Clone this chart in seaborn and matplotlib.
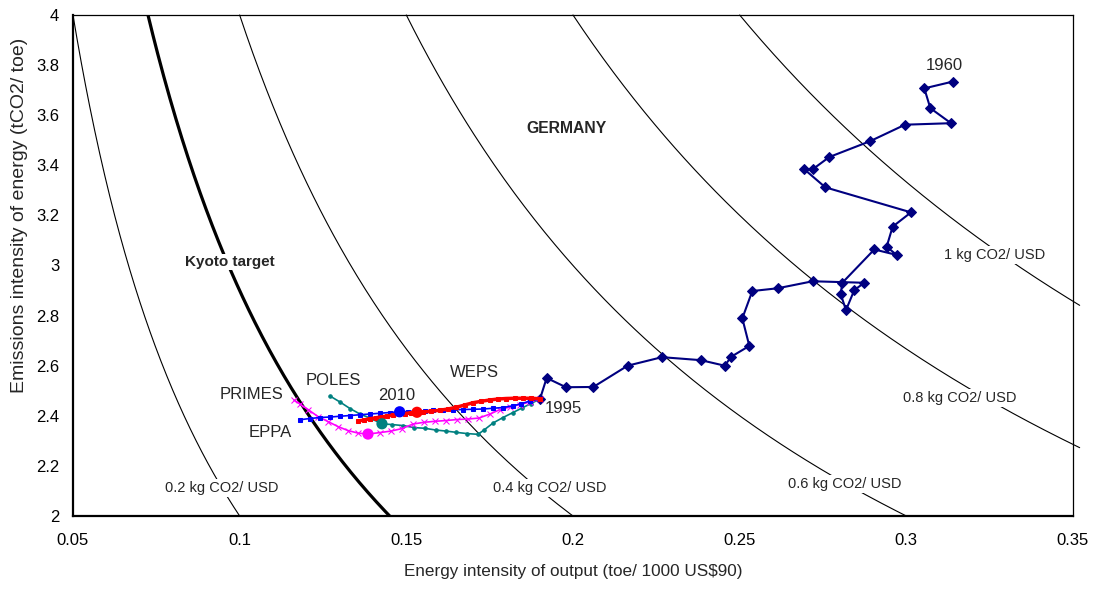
import numpy as np
import pandas as pd
import matplotlib
matplotlib.use("Agg")
import matplotlib.pyplot as plt
import seaborn as sns

# Germany 1960 -> 1995, (energy intensity of output, emissions intensity of energy)
germany_x = [0.3139, 0.3054, 0.3072, 0.3134, 0.2996, 0.2891, 0.2769, 0.2719, 0.2694,
             0.2757, 0.3014, 0.2959, 0.2941, 0.2971, 0.2904, 0.2808, 0.2803, 0.2819,
             0.2844, 0.2874, 0.2719, 0.2614, 0.2538, 0.2508, 0.2529, 0.2475, 0.2455,
             0.2384, 0.2267, 0.2164, 0.2061, 0.1979, 0.1921, 0.1901]
germany_y = [3.734, 3.707, 3.628, 3.568, 3.562, 3.496, 3.433, 3.384, 3.384,
             3.312, 3.212, 3.155, 3.075, 3.042, 3.064, 2.931, 2.886, 2.822,
             2.902, 2.931, 2.937, 2.909, 2.898, 2.789, 2.679, 2.636, 2.600,
             2.622, 2.634, 2.600, 2.515, 2.514, 2.551, 2.467]

# model projections from 1995
eppa_x = [0.190, 0.187, 0.1845, 0.182, 0.179, 0.176, 0.173, 0.170, 0.167, 0.164, 0.161,
          0.158, 0.1555, 0.153, 0.1505, 0.148, 0.145, 0.142, 0.139, 0.136, 0.133,
          0.130, 0.127, 0.124, 0.121, 0.118]
eppa_y = [2.467, 2.459, 2.448, 2.440, 2.433, 2.430, 2.427, 2.426, 2.425, 2.424, 2.423,
          2.422, 2.420, 2.418, 2.417, 2.416, 2.413, 2.410, 2.407, 2.404, 2.401,
          2.398, 2.395, 2.393, 2.389, 2.384]

weps_x = [0.190, 0.1875, 0.185, 0.1825, 0.180, 0.1775, 0.175, 0.1725, 0.170, 0.1675,
          0.165, 0.1625, 0.160, 0.1575, 0.155, 0.1532, 0.1514, 0.1496, 0.1479, 0.1461,
          0.1443, 0.1426, 0.1408, 0.1390, 0.1373, 0.1355]
weps_y = [2.468, 2.470, 2.470, 2.470, 2.469, 2.467, 2.463, 2.458, 2.452, 2.443,
          2.434, 2.427, 2.422, 2.418, 2.415, 2.414, 2.412, 2.409, 2.406, 2.403,
          2.399, 2.396, 2.392, 2.388, 2.383, 2.379]

primes_x = [0.1901, 0.1871, 0.1841, 0.1811, 0.1781, 0.1751, 0.1718, 0.1685, 0.1652,
            0.1619, 0.1586, 0.1553, 0.1520, 0.1487, 0.1454, 0.1421, 0.1385, 0.1355,
            0.1325, 0.1295, 0.1265, 0.1235, 0.1205, 0.1181, 0.1163]
primes_y = [2.467, 2.455, 2.445, 2.435, 2.425, 2.407, 2.391, 2.387, 2.385,
            2.381, 2.378, 2.374, 2.367, 2.349, 2.339, 2.333, 2.327, 2.331,
            2.341, 2.357, 2.377, 2.397, 2.425, 2.447, 2.463]

poles_x = [0.1901, 0.1874, 0.1847, 0.1820, 0.1790, 0.1760, 0.1733, 0.1715, 0.1682,
           0.1649, 0.1619, 0.1589, 0.1556, 0.1523, 0.1490, 0.1457, 0.1427, 0.1394,
           0.1361, 0.1331, 0.1301, 0.1271]
poles_y = [2.467, 2.449, 2.431, 2.413, 2.393, 2.371, 2.343, 2.326, 2.329,
           2.334, 2.339, 2.343, 2.350, 2.353, 2.361, 2.365, 2.368, 2.389,
           2.407, 2.429, 2.455, 2.479]

# 2010 points of each model
dots_x = [0.1427, 0.1385, 0.148, 0.1532]
dots_y = [2.368, 2.327, 2.416, 2.414]

# iso-emission curves (kg CO2 / USD) and the Kyoto target
iso_levels = [0.2, 0.4, 0.6, 0.8, 1.0]
iso_labels = ["0.2 kg CO2/ USD", "0.4 kg CO2/ USD", "0.6 kg CO2/ USD",
              "0.8 kg CO2/ USD", "1 kg CO2/ USD"]
kyoto_level = 0.29

sns.set_theme(style="white")
plt.rcParams["font.family"] = ["Liberation Sans", "DejaVu Sans"]

fig = plt.figure(figsize=(10.94, 5.92), dpi=100)
ax = fig.add_axes([0.0667, 0.1284, 0.9141, 0.8463])

xmax_draw = 0.352
for c in iso_levels:
    x0 = max(c / 4.0, 0.05)
    x1 = min(c / 2.0, xmax_draw)
    xs = np.linspace(x0, x1, 200)
    sns.lineplot(x=xs, y=c / xs, ax=ax, color="black", linewidth=0.8,
                 sort=False, estimator=None, clip_on=False, zorder=1)

xs = np.linspace(kyoto_level / 4.0, kyoto_level / 2.0, 200)
sns.lineplot(x=xs, y=kyoto_level / xs, ax=ax, color="black", linewidth=2.3,
             sort=False, estimator=None, zorder=1)

lab_pos = [(0.0947, 2.112), (0.1931, 2.112), (0.2816, 2.128), (0.3161, 2.471), (0.3266, 3.042)]
for (tx, ty), t in zip(lab_pos, iso_labels):
    ax.text(tx, ty, t, fontsize=10.5, ha="center", va="center", zorder=2,
            bbox=dict(facecolor="white", edgecolor="none", pad=1.5))

ax.text(0.0971, 3.014, "Kyoto target", fontsize=11, fontweight="bold", ha="center",
        va="center", zorder=2, bbox=dict(facecolor="white", edgecolor="none", pad=1.0))
ax.text(0.1982, 3.545, "GERMANY", fontsize=11.3, fontweight="bold", ha="center", va="center")

sns.lineplot(x=germany_x, y=germany_y, ax=ax, color="#000080", linewidth=1.5,
             marker="D", markersize=4.8, markeredgecolor="#000080",
             sort=False, estimator=None, zorder=4)

sns.lineplot(x=poles_x, y=poles_y, ax=ax, color="#008080", linewidth=1.2, marker="o",
             markersize=2.5, markeredgecolor="#008080", sort=False, estimator=None, zorder=5)
sns.lineplot(x=primes_x, y=primes_y, ax=ax, color="#FF00FF", linewidth=1.2, marker="x",
             markersize=4, markeredgecolor="#FF00FF", sort=False, estimator=None, zorder=5)
sns.lineplot(x=eppa_x, y=eppa_y, ax=ax, color="#0000FF", linewidth=1.2, marker="s",
             markersize=2.5, markeredgecolor="#0000FF", sort=False, estimator=None, zorder=6)
sns.lineplot(x=weps_x, y=weps_y, ax=ax, color="#FF0000", linewidth=2.5, marker="s",
             markersize=3.5, markeredgecolor="#FF0000", sort=False, estimator=None, zorder=7)

dot_colors = ["#008080", "#FF00FF", "#0000FF", "#FF0000"]
sns.scatterplot(x=dots_x, y=dots_y, ax=ax, hue=[0, 1, 2, 3], palette=dot_colors,
                s=65, linewidth=0, legend=False, zorder=8)

label_text = [("1960", 0.3113, 3.80), ("PRIMES", 0.1037, 2.483), ("POLES", 0.128, 2.539),
              ("2010", 0.1472, 2.479), ("WEPS", 0.1703, 2.571), ("EPPA", 0.1091, 2.335),
              ("1995", 0.197, 2.431)]
for t, tx, ty in label_text:
    ax.text(tx, ty, t, fontsize=12, ha="center", va="center", zorder=9)

ax.set_xlim(0.05, 0.35)
ax.set_ylim(2, 4)
ax.set_xticks([0.05, 0.1, 0.15, 0.2, 0.25, 0.3, 0.35])
ax.set_xticklabels(["0.05", "0.1", "0.15", "0.2", "0.25", "0.3", "0.35"])
ax.set_yticks([2, 2.2, 2.4, 2.6, 2.8, 3, 3.2, 3.4, 3.6, 3.8, 4])
ax.set_yticklabels(["2", "2.2", "2.4", "2.6", "2.8", "3", "3.2", "3.4", "3.6", "3.8", "4"])
ax.tick_params(axis="x", direction="inout", length=8, width=1, labelsize=12, pad=8, colors="black")
ax.tick_params(axis="y", direction="out", length=5, width=1, labelsize=12, pad=5, colors="black")

for s in ["left", "bottom"]:
    ax.spines[s].set_linewidth(1.6)
    ax.spines[s].set_color("black")
for s in ["top", "right"]:
    ax.spines[s].set_linewidth(0.9)
    ax.spines[s].set_color("black")

ax.set_xlabel("Energy intensity of output (toe/ 1000 US$90)", fontsize=12.3, labelpad=12)
ax.set_ylabel("Emissions intensity of energy (tCO2/ toe)", fontsize=14)
ax.yaxis.set_label_coords(-0.045, 0.60)

fig.savefig("out.png", dpi=100, facecolor="white")
